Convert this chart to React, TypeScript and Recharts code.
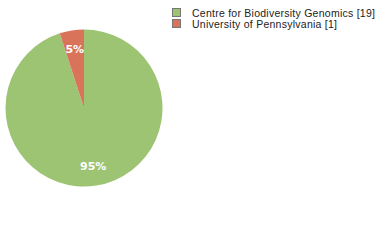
import { PieChart, Pie, Cell } from 'recharts'

const institutions = ['Centre for Biodiversity Genomics', 'University of Pennsylvania']
const counts = [19, 1]
const colors = ['#9DC472', '#D9745A']

const data = institutions.map((name, i) => ({ name, value: counts[i] }))
const total = counts.reduce((a, b) => a + b, 0)

const RAD = Math.PI / 180

if (typeof document !== 'undefined') {
  document.body.style.margin = '0'
}

function renderLabel(props: any) {
  const { cx, cy, midAngle, outerRadius, value } = props
  const r = outerRadius * 0.75
  const x = cx + r * Math.cos(-midAngle * RAD)
  const y = cy + r * Math.sin(-midAngle * RAD)
  return (
    <text
      x={x}
      y={y}
      fill="#ffffff"
      textAnchor="middle"
      dominantBaseline="central"
      fontSize={11}
      fontWeight="bold"
      fontFamily="'DejaVu Sans', sans-serif"
    >
      {`${Math.round((value / total) * 100)}%`}
    </text>
  )
}

function LegendBox() {
  return (
    <div
      style={{
        position: 'absolute',
        top: 7,
        left: 172,
        fontFamily: "'Liberation Sans', sans-serif",
        fontSize: 10.5,
        letterSpacing: 0.25,
        color: '#222',
        whiteSpace: 'nowrap',
      }}
    >
      {data.map((d, i) => (
        <div key={d.name} style={{ display: 'flex', alignItems: 'center', height: 11 }}>
          <span
            style={{
              display: 'inline-block',
              width: 7,
              height: 7,
              background: colors[i],
              border: '1px solid #777',
              marginRight: 11,
            }}
          />
          <span>{`${d.name} [${d.value}]`}</span>
        </div>
      ))}
    </div>
  )
}

export default function App() {
  return (
    <div style={{ width: 380, height: 240, background: '#fff', position: 'relative' }}>
      <PieChart width={380} height={240} margin={{ top: 0, right: 0, bottom: 0, left: 0 }}>
        <Pie
          data={data}
          dataKey="value"
          nameKey="name"
          cx={84}
          cy={108}
          outerRadius={78.5}
          startAngle={90}
          endAngle={-270}
          stroke="none"
          label={renderLabel}
          labelLine={false}
          isAnimationActive={false}
        >
          {data.map((d, i) => (
            <Cell key={d.name} fill={colors[i]} />
          ))}
        </Pie>
      </PieChart>
      <LegendBox />
    </div>
  )
}
